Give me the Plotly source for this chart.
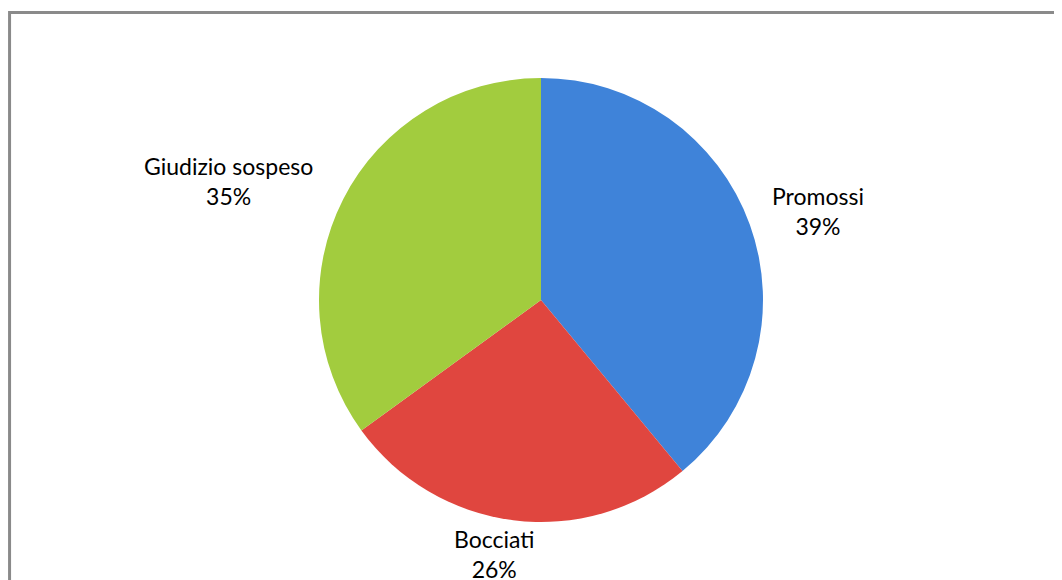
import plotly.graph_objects as go

labels = ["Promossi", "Bocciati", "Giudizio sospeso"]
values = [39, 26, 35]
pct_text = ["39%", "26%", "35%"]
colors = ["#3F83D9", "#E0463F", "#A2CC3E"]

W, H = 1062, 580
OFF = 8  # page offset of the figure inside the browser window
cx, cy, r = 541 - OFF, 300 - OFF, 222

fig = go.Figure(go.Pie(
    labels=labels, values=values, sort=False, direction="clockwise", rotation=0,
    marker=dict(colors=colors, line=dict(width=0)),
    textinfo="none", hoverinfo="label+percent", showlegend=False,
    domain=dict(x=[(cx - r) / W, (cx + r) / W], y=[1 - (cy + r) / H, 1 - (cy - r) / H]),
))

# label positions (pixels) for outside data labels
label_pos = [(818 - OFF, 211 - OFF), (494 - OFF, 554 - OFF), (228 - OFF, 181 - OFF)]
for lab, pt, (px, py) in zip(labels, pct_text, label_pos):
    fig.add_annotation(x=px / W, y=1 - py / H, xref="paper", yref="paper",
                       text=f"{lab}<br>{pt}", showarrow=False, align="center",
                       xanchor="center", yanchor="middle",
                       font=dict(family="Lato, Open Sans, sans-serif", size=23, color="#000"))

# chart frame (top and left edges visible)
fig.add_shape(type="rect", xref="paper", yref="paper",
              x0=(8.5 - OFF) / W + 0.001, x1=1.05, y0=-0.05, y1=1 - (12.5 - OFF) / H,
              line=dict(color="#8A8A8A", width=3), fillcolor="rgba(0,0,0,0)")

fig.update_layout(width=W, height=H, margin=dict(l=0, r=0, t=0, b=0),
                  paper_bgcolor="white", plot_bgcolor="white")
fig.write_html("out.html")
